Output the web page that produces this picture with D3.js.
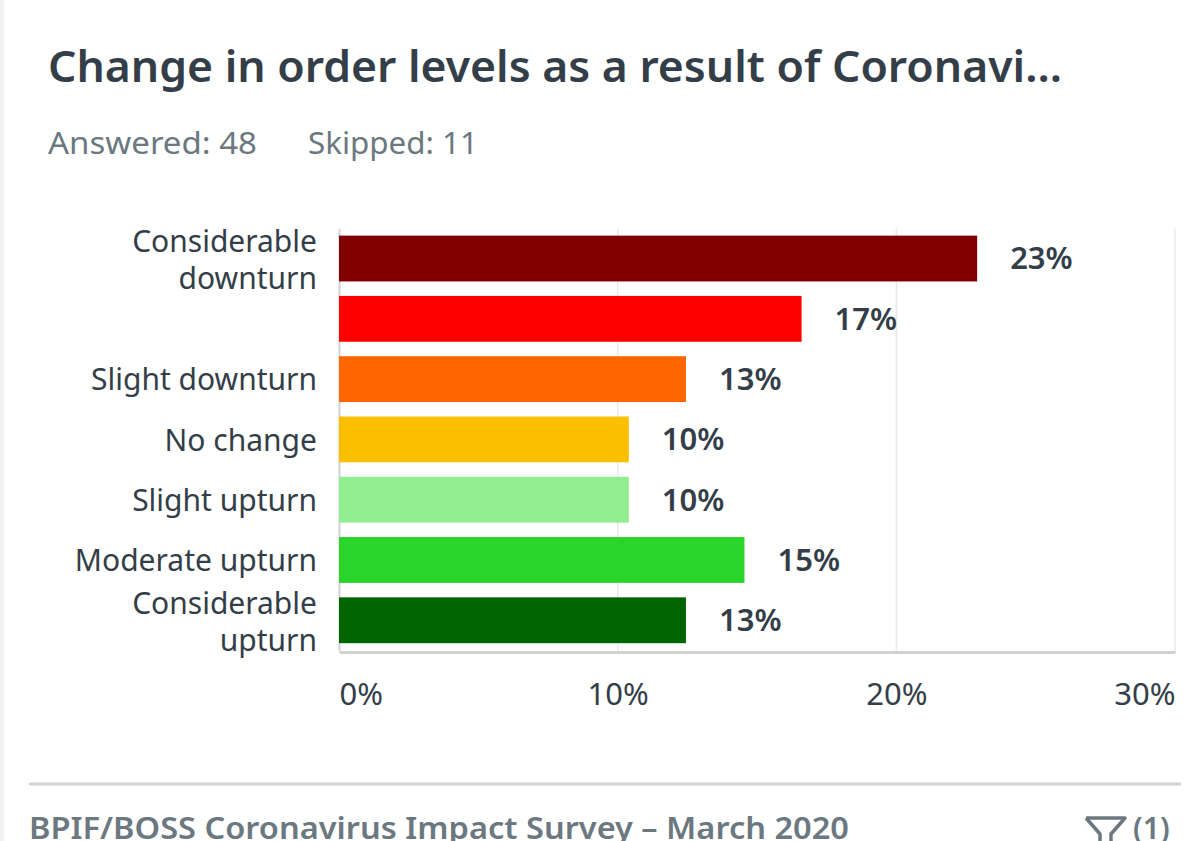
<!DOCTYPE html>
<html>
<head>
<meta charset="utf-8">
<script src="https://cdn.jsdelivr.net/npm/d3@7"></script>
<style>
    html, body { margin: 0; padding: 0; background: #fff; overflow: hidden; }
    text { font-family: "Noto Sans", sans-serif; }
</style>
</head>
<body>
<div id="chart"></div>
<script>
// one label per row, the second row has no label in the original
const categories = ["Considerable downturn", "", "Slight downturn", "No change", "Slight upturn", "Moderate upturn", "Considerable upturn"]
const values = [22.9, 16.6, 12.45, 10.4, 10.4, 14.55, 12.45]
const valueLabels = ["23%", "17%", "13%", "10%", "10%", "15%", "13%"]
const barColors = ["#800000", "#ff0000", "#ff6600", "#fac000", "#90ee90", "#2ad42a", "#006400"]
const xTicks = [0, 10, 20, 30]

const width = 1192
const height = 841
const marginLeft = 339
const marginRight = 17
const plotTop = 228.4
const plotBottom = 650.4
const axisY = 652

const svg = d3.select("#chart").append("svg")
    .attr("width", width)
    .attr("height", height)
    .attr("viewBox", [0, 0, width, height])
    .style("display", "block")

// card border on the left
svg.append("rect").attr("x", 0).attr("y", 0).attr("width", 4).attr("height", height).attr("fill", "#eff1f1")

svg.append("text")
    .attr("x", 48).attr("y", 82)
    .attr("font-size", 44).attr("font-weight", 600).attr("fill", "#333e48")
    .attr("textLength", 1014).attr("lengthAdjust", "spacingAndGlyphs")
    .text("Change in order levels as a result of Coronavi...")

svg.append("text")
    .attr("x", 48).attr("y", 154)
    .attr("font-size", 31).attr("fill", "#6b787f")
    .attr("textLength", 209).attr("lengthAdjust", "spacingAndGlyphs")
    .text("Answered: 48")

svg.append("text")
    .attr("x", 308).attr("y", 154)
    .attr("font-size", 31).attr("fill", "#6b787f")
    .attr("textLength", 170).attr("lengthAdjust", "spacingAndGlyphs")
    .text("Skipped: 11")

const x = d3.scaleLinear()
    .domain([0, 30])
    .range([marginLeft, width - marginRight])

const y = d3.scaleBand()
    .domain(d3.range(categories.length))
    .range([plotTop, plotBottom])
    .paddingInner(0.24)
    .paddingOuter(0.12)

// vertical grid
svg.append("g")
    .attr("stroke", "#e8eaea")
    .attr("stroke-width", 1.5)
    .selectAll("line")
    .data(xTicks.slice(1))
    .join("line")
    .attr("x1", d => x(d))
    .attr("x2", d => x(d))
    .attr("y1", plotTop)
    .attr("y2", axisY)

// x axis
svg.append("g")
    .attr("transform", `translate(0,${axisY})`)
    .call(d3.axisBottom(x).tickValues(xTicks).tickSize(0).tickPadding(31).tickFormat(d => d + "%"))
    .call(g => g.select(".domain").attr("stroke", "#d0d2d3").attr("stroke-width", 3))
    .call(g => g.selectAll("text")
        .attr("font-size", 31)
        .attr("fill", "#333e48")
        .attr("text-anchor", (d, i) => i == 0 ? "start" : i == xTicks.length - 1 ? "end" : "middle"))

// y axis
svg.append("g")
    .attr("transform", `translate(${marginLeft},0)`)
    .call(d3.axisLeft(y).tickSize(0).tickPadding(22).tickFormat(""))
    .call(g => g.select(".domain").attr("stroke", "#d0d2d3").attr("stroke-width", 2))
    .call(g => g.selectAll(".tick text").each(function (d) {
        const label = categories[d]
        const text = d3.select(this).attr("font-size", 30).attr("fill", "#333e48")
        const parts = label.startsWith("Considerable") ? label.split(" ") : [label]
        text.selectAll("tspan")
            .data(parts)
            .join("tspan")
            .attr("x", -22)
            .attr("dy", (p, i) => i == 0 ? (parts.length > 1 ? "-0.22em" : "0.37em") : "1.23em")
            .text(p => p)
        text.attr("dy", null)
    }))

// bars
svg.append("g")
    .selectAll("rect")
    .data(values)
    .join("rect")
    .attr("x", x(0))
    .attr("y", (d, i) => y(i))
    .attr("width", d => x(d) - x(0))
    .attr("height", y.bandwidth())
    .attr("fill", (d, i) => barColors[i])

// value labels
svg.append("g")
    .selectAll("text")
    .data(values)
    .join("text")
    .attr("x", d => x(d) + 33)
    .attr("y", (d, i) => y(i) + y.bandwidth() / 2)
    .attr("dy", "0.35em")
    .attr("font-size", 31)
    .attr("font-weight", 600)
    .attr("fill", "#333e48")
    .text((d, i) => valueLabels[i])

// footer
svg.append("line")
    .attr("x1", 29).attr("x2", 1181).attr("y1", 784).attr("y2", 784)
    .attr("stroke", "#d0d2d3").attr("stroke-width", 3)

svg.append("text")
    .attr("x", 29).attr("y", 839)
    .attr("font-size", 31).attr("font-weight", 600).attr("fill", "#6b787f")
    .attr("textLength", 820).attr("lengthAdjust", "spacingAndGlyphs")
    .text("BPIF/BOSS Coronavirus Impact Survey – March 2020")

// filter icon
svg.append("path")
    .attr("d", "M1086,818 H1125 L1111,834 V843 M1086,818 L1100,834 V843")
    .attr("fill", "none")
    .attr("stroke", "#6b787f")
    .attr("stroke-width", 3.5)
    .attr("stroke-linejoin", "round")

svg.append("text")
    .attr("x", 1133).attr("y", 839)
    .attr("font-size", 30).attr("font-weight", 600).attr("fill", "#6b787f")
    .text("(1)")
</script>
</body>
</html>
